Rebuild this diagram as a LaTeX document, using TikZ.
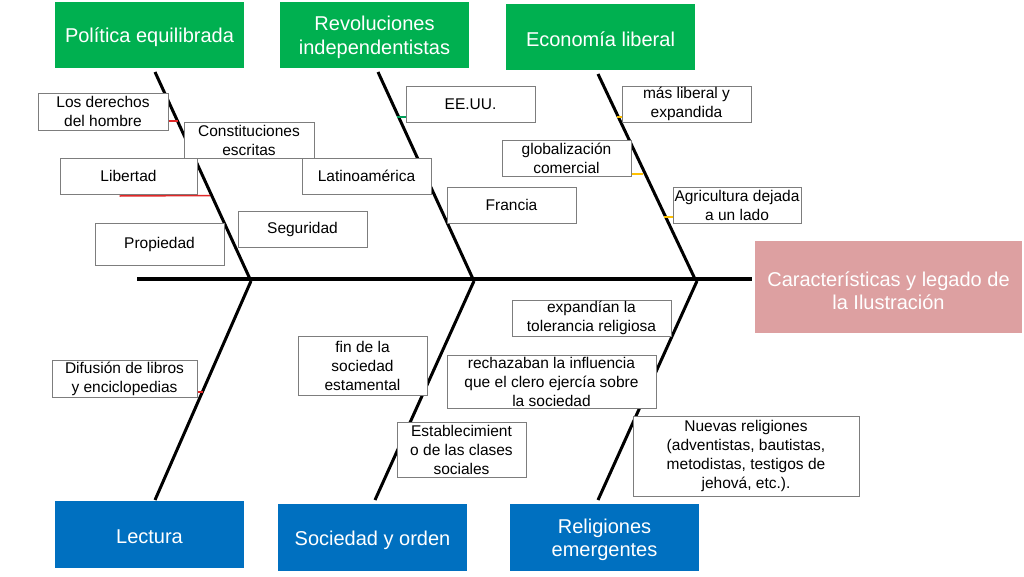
\documentclass[tikz,border=0pt]{standalone}
\usepackage{fontspec}
\setmainfont{Liberation Sans}
\usetikzlibrary{calc}
\definecolor{hgreen}{RGB}{0,176,80}
\definecolor{hblue}{RGB}{0,112,192}
\definecolor{hpink}{RGB}{221,160,161}
\definecolor{bgray}{RGB}{125,125,125}
\definecolor{tred}{RGB}{225,40,40}
\definecolor{tgreen}{RGB}{0,160,90}
\definecolor{tyellow}{RGB}{255,192,0}
\tikzset{
  hdrtext/.style={inner sep=0pt, align=center, text=white, font=\fontsize{20}{23.5}\selectfont, yshift=-2.5pt},
  greenhdr/.style={inner sep=0pt, fill=hgreen, minimum width=189, minimum height=66},
  bluehdr/.style={inner sep=0pt, fill=hblue, minimum width=189, minimum height=67},
  effbox/.style={inner sep=0pt, fill=hpink, minimum width=267, minimum height=92},
  txtbox/.style={draw=bgray, line width=1pt, fill=white, inner sep=0pt, align=center,
                 font=\fontsize{15.5}{19}\selectfont},
  bone/.style={line width=3pt, black},
  spineline/.style={line width=4pt, black},
  tickline/.style={line width=1.5pt}
}
\begin{document}
\begin{tikzpicture}[x=1pt,y=-1pt]
\useasboundingbox[fill=white] (0,0) rectangle (1024,576);

% headers
\node[greenhdr, label={[hdrtext]center:{Política equilibrada}}] (pol) at (149.5,35) {};
\node[greenhdr, label={[hdrtext]center:{Revoluciones\\independentistas}}] (rev) at (374.5,35) {};
\node[greenhdr, label={[hdrtext]center:{Economía liberal}}] (eco) at (600.5,37) {};
\node[bluehdr, label={[hdrtext]center:{Lectura}}] (lec) at (149.5,534.5) {};
\node[bluehdr, label={[hdrtext]center:{Sociedad y orden}}] (soc) at (372.5,537.5) {};
\node[bluehdr, label={[hdrtext]center:{Religiones\\emergentes}}] (rel) at (604.5,537.5) {};
\node[effbox, label={[hdrtext, yshift=-1pt]center:{Características y legado de\\la Ilustración}}] (eff) at (888.5,287) {};

% spine and bones
\coordinate (s0) at (137,279);
\draw[spineline] (s0) -- ([xshift=-3pt]s0 -| eff.west);
\coordinate (t1) at (155,72);  \coordinate (j1) at (250,279);
\coordinate (t2) at (378,72);  \coordinate (j2) at (473,279);
\coordinate (t3) at (598,74);  \coordinate (j3) at (695,279);
\coordinate (j4) at (251,281); \coordinate (b4) at (155,500);
\coordinate (j5) at (474,281); \coordinate (b5) at (375,500);
\coordinate (j6) at (697,281); \coordinate (b6) at (598,500);
\draw[bone] (t1) -- (j1);
\draw[bone] (t2) -- (j2);
\draw[bone] (t3) -- (j3);
\draw[bone] (j4) -- (b4);
\draw[bone] (j5) -- (b5);
\draw[bone] (j6) -- (b6);

% cause boxes
\node[txtbox, minimum width=130, minimum height=37] (der) at (103,111.5) {Los derechos\\del hombre};
\node[txtbox, minimum width=137, minimum height=36] (lib) at (128.5,176) {Libertad};
\node[txtbox, minimum width=130, minimum height=36] (con) at (249,140) {Constituciones\\escritas};
\node[txtbox, minimum width=129, minimum height=42] (pro) at (159.5,244) {Propiedad};
\node[txtbox, minimum width=129, minimum height=36] (seg) at (302.5,229) {Seguridad};
\node[txtbox, minimum width=129, minimum height=36] (ee) at (470.5,104) {EE.UU.};
\node[txtbox, minimum width=129, minimum height=36] (lat) at (366.5,176) {Latinoamérica};
\node[txtbox, minimum width=129, minimum height=36] (fra) at (511.5,205) {Francia};
\node[txtbox, minimum width=129, minimum height=36] (mas) at (686.5,104) {más liberal y\\expandida};
\node[txtbox, minimum width=129, minimum height=36] (glo) at (566.5,158) {globalización\\comercial};
\node[txtbox, minimum width=128, minimum height=36] (agr) at (737,205) {Agricultura dejada\\a un lado};
\node[txtbox, minimum width=145, minimum height=37] (dif) at (124.5,378.5) {Difusión de libros\\y enciclopedias};
\node[txtbox, minimum width=129, minimum height=59] (fin) at (362.5,365.5) {fin de la\\sociedad\\estamental};
\node[txtbox, minimum width=129, minimum height=55] (est) at (461.5,449.5) {Establecimient\\o de las clases\\sociales};
\node[txtbox, minimum width=159, minimum height=36] (exp) at (591.5,318) {expandían la\\tolerancia religiosa};
\node[txtbox, minimum width=209, minimum height=53] (rec) at (551.5,381.5) {rechazaban la influencia\\que el clero ejercía sobre\\la sociedad};
\node[txtbox, minimum width=226, minimum height=80] (nue) at (746,456) {Nuevas religiones\\(adventistas, bautistas,\\metodistas, testigos de\\jehová, etc.).};

% small coloured ticks
\draw[tickline, tred] (der.east |- 0,121) -- (178,121);
\draw[tickline, tred] ($(lib.south west)+(60,1.5)$) -- (210,195.5);
\draw[tickline, tgreen] (397,117) -- (ee.west |- 0,117);
\draw[tickline, tyellow] (617,117) -- (mas.west |- 0,117);
\draw[tickline, tyellow] (glo.east |- 0,174) -- (643,174);
\draw[tickline, tyellow] (664,217) -- (agr.west |- 0,217);
\draw[tickline, tred] (dif.east |- 0,392) -- (203,392);
\end{tikzpicture}
\end{document}
